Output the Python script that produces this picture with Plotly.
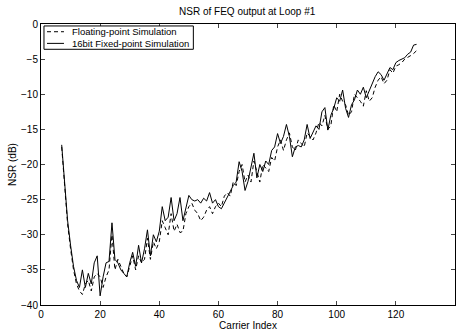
import plotly.graph_objects as go

x = list(range(7, 128))

fixed = [-17.2, -23, -28, -31.5, -34.5, -36.5, -37.5, -35, -37.5, -35.5,
         -37, -34, -33, -38.7, -36, -34, -33.8, -28.3, -33.5, -34,
         -35, -35.5, -36, -34, -32.5, -34.5, -31.5, -34, -32, -29.3,
         -33, -30, -31, -29.5, -26, -28, -27.5, -24.7, -28, -27,
         -24.7, -28, -26, -24.4, -25, -25.2, -25, -25.5, -24.8, -25.2,
         -24, -25.5, -25, -26, -26.3, -25.5, -24.5, -23.7, -23, -22.5,
         -19.6, -21, -23.7, -22.4, -20.5, -18.4, -21.9, -20, -21, -19.5,
         -20, -18, -17.5, -15.6, -17, -16, -14.3, -16, -18.9, -17.5,
         -17.3, -17.5, -16.5, -14.3, -16.3, -15.5, -14.5, -15, -12.5, -11.9,
         -15.1, -13, -12, -10.5, -11, -9.4, -12, -13.3, -11.5, -10.8,
         -9.4, -10, -9, -10.5, -9.5, -8.7, -7.5, -6.8, -7.2, -8,
         -7, -6.2, -6.5, -5.5, -5.2, -5, -4.8, -4.3, -4, -3, -2.9]

floating = [-17.5, -23.5, -28.5, -32, -35, -37, -38, -38.5, -37, -36.5,
            -38, -36, -35.5, -36, -37.5, -36, -35, -30, -35, -33.5,
            -34.5, -35.5, -36, -34.5, -33, -35, -33, -34, -33.5, -30.5,
            -33.5, -31, -32, -31, -28, -29, -30, -27, -29.5, -28.5,
            -29.7, -29.5, -27, -26, -25.5, -26.5, -27, -28, -27.5, -26.5,
            -26, -27, -26, -25.5, -26, -24.5, -24, -24.5, -22.5, -23,
            -21, -20, -22.5, -21.5, -22.5, -19.5, -21, -22.5, -20, -20.5,
            -21, -19, -19.5, -17.5, -16.5, -18, -16.5, -15.5, -17.5, -18,
            -16.5, -17, -17.5, -15.5, -16, -16.5, -15.5, -14, -14.5, -13,
            -15, -14.5, -11.5, -12.5, -10, -11, -11.5, -13, -12.5, -10,
            -10.5, -11, -11.7, -9.5, -11, -10.5, -9, -8, -7.5, -8.5,
            -8, -6.5, -7, -6, -5.8, -5.5, -5, -4.8, -4.5, -4.2, -3.8]

names = ["Floating-point Simulation", "16bit Fixed-point Simulation"]
dashes = ["4px,3px", "solid"]
x_ticks = [0, 20, 40, 60, 80, 100, 120, 140]
y_ticks = [-40, -35, -30, -25, -20, -15, -10, -5, 0]

fig = go.Figure()
fig.add_trace(go.Scatter(x=x, y=floating, mode="lines", name=names[0],
                         showlegend=False,
                         line=dict(color="black", width=1, dash=dashes[0])))
fig.add_trace(go.Scatter(x=x, y=fixed, mode="lines", name=names[1],
                         showlegend=False,
                         line=dict(color="black", width=1, dash=dashes[1])))

# compact MATLAB-style legend box (paper coordinates of the plot area)
shapes = [dict(type="rect", xref="paper", yref="paper",
               x0=0.0072, x1=0.368, y0=0.910, y1=0.993,
               line=dict(color="black", width=1), fillcolor="white", layer="above")]
annotations = []
rows_y = [0.9725, 0.931]
for nm, ds, ry in zip(names, dashes, rows_y):
    shapes.append(dict(type="line", xref="paper", yref="paper",
                       x0=0.0145, x1=0.0555, y0=ry, y1=ry,
                       line=dict(color="black", width=1, dash=ds), layer="above"))
    annotations.append(dict(text=nm, xref="paper", yref="paper", x=0.0690, y=ry,
                            xanchor="left", yanchor="middle", showarrow=False,
                            font=dict(size=9.5)))

font = "Liberation Sans, Arial, sans-serif"
fig.update_layout(
    width=462, height=333,
    margin=dict(l=41, r=6, t=24, b=21),
    paper_bgcolor="white", plot_bgcolor="white",
    font=dict(family=font, size=10, color="black"),
    title=dict(text="NSR of FEQ output at Loop #1", x=0.535, xanchor="center",
               y=0.965, yanchor="middle", font=dict(size=10)),
    showlegend=False,
    shapes=shapes,
    annotations=annotations,
    xaxis=dict(range=[0, 140], tickvals=x_ticks, ticks="inside", ticklen=4,
               showline=True, linecolor="black", linewidth=1, mirror="ticks",
               showgrid=False, zeroline=False,
               title=dict(text="Carrier Index", standoff=0, font=dict(size=10))),
    yaxis=dict(range=[-40, 0], tickvals=y_ticks, ticks="inside", ticklen=4,
               showline=True, linecolor="black", linewidth=1, mirror="ticks",
               showgrid=False, zeroline=False,
               title=dict(text="NSR (dB)", standoff=2, font=dict(size=10))),
)

fig.write_html("out.html")
